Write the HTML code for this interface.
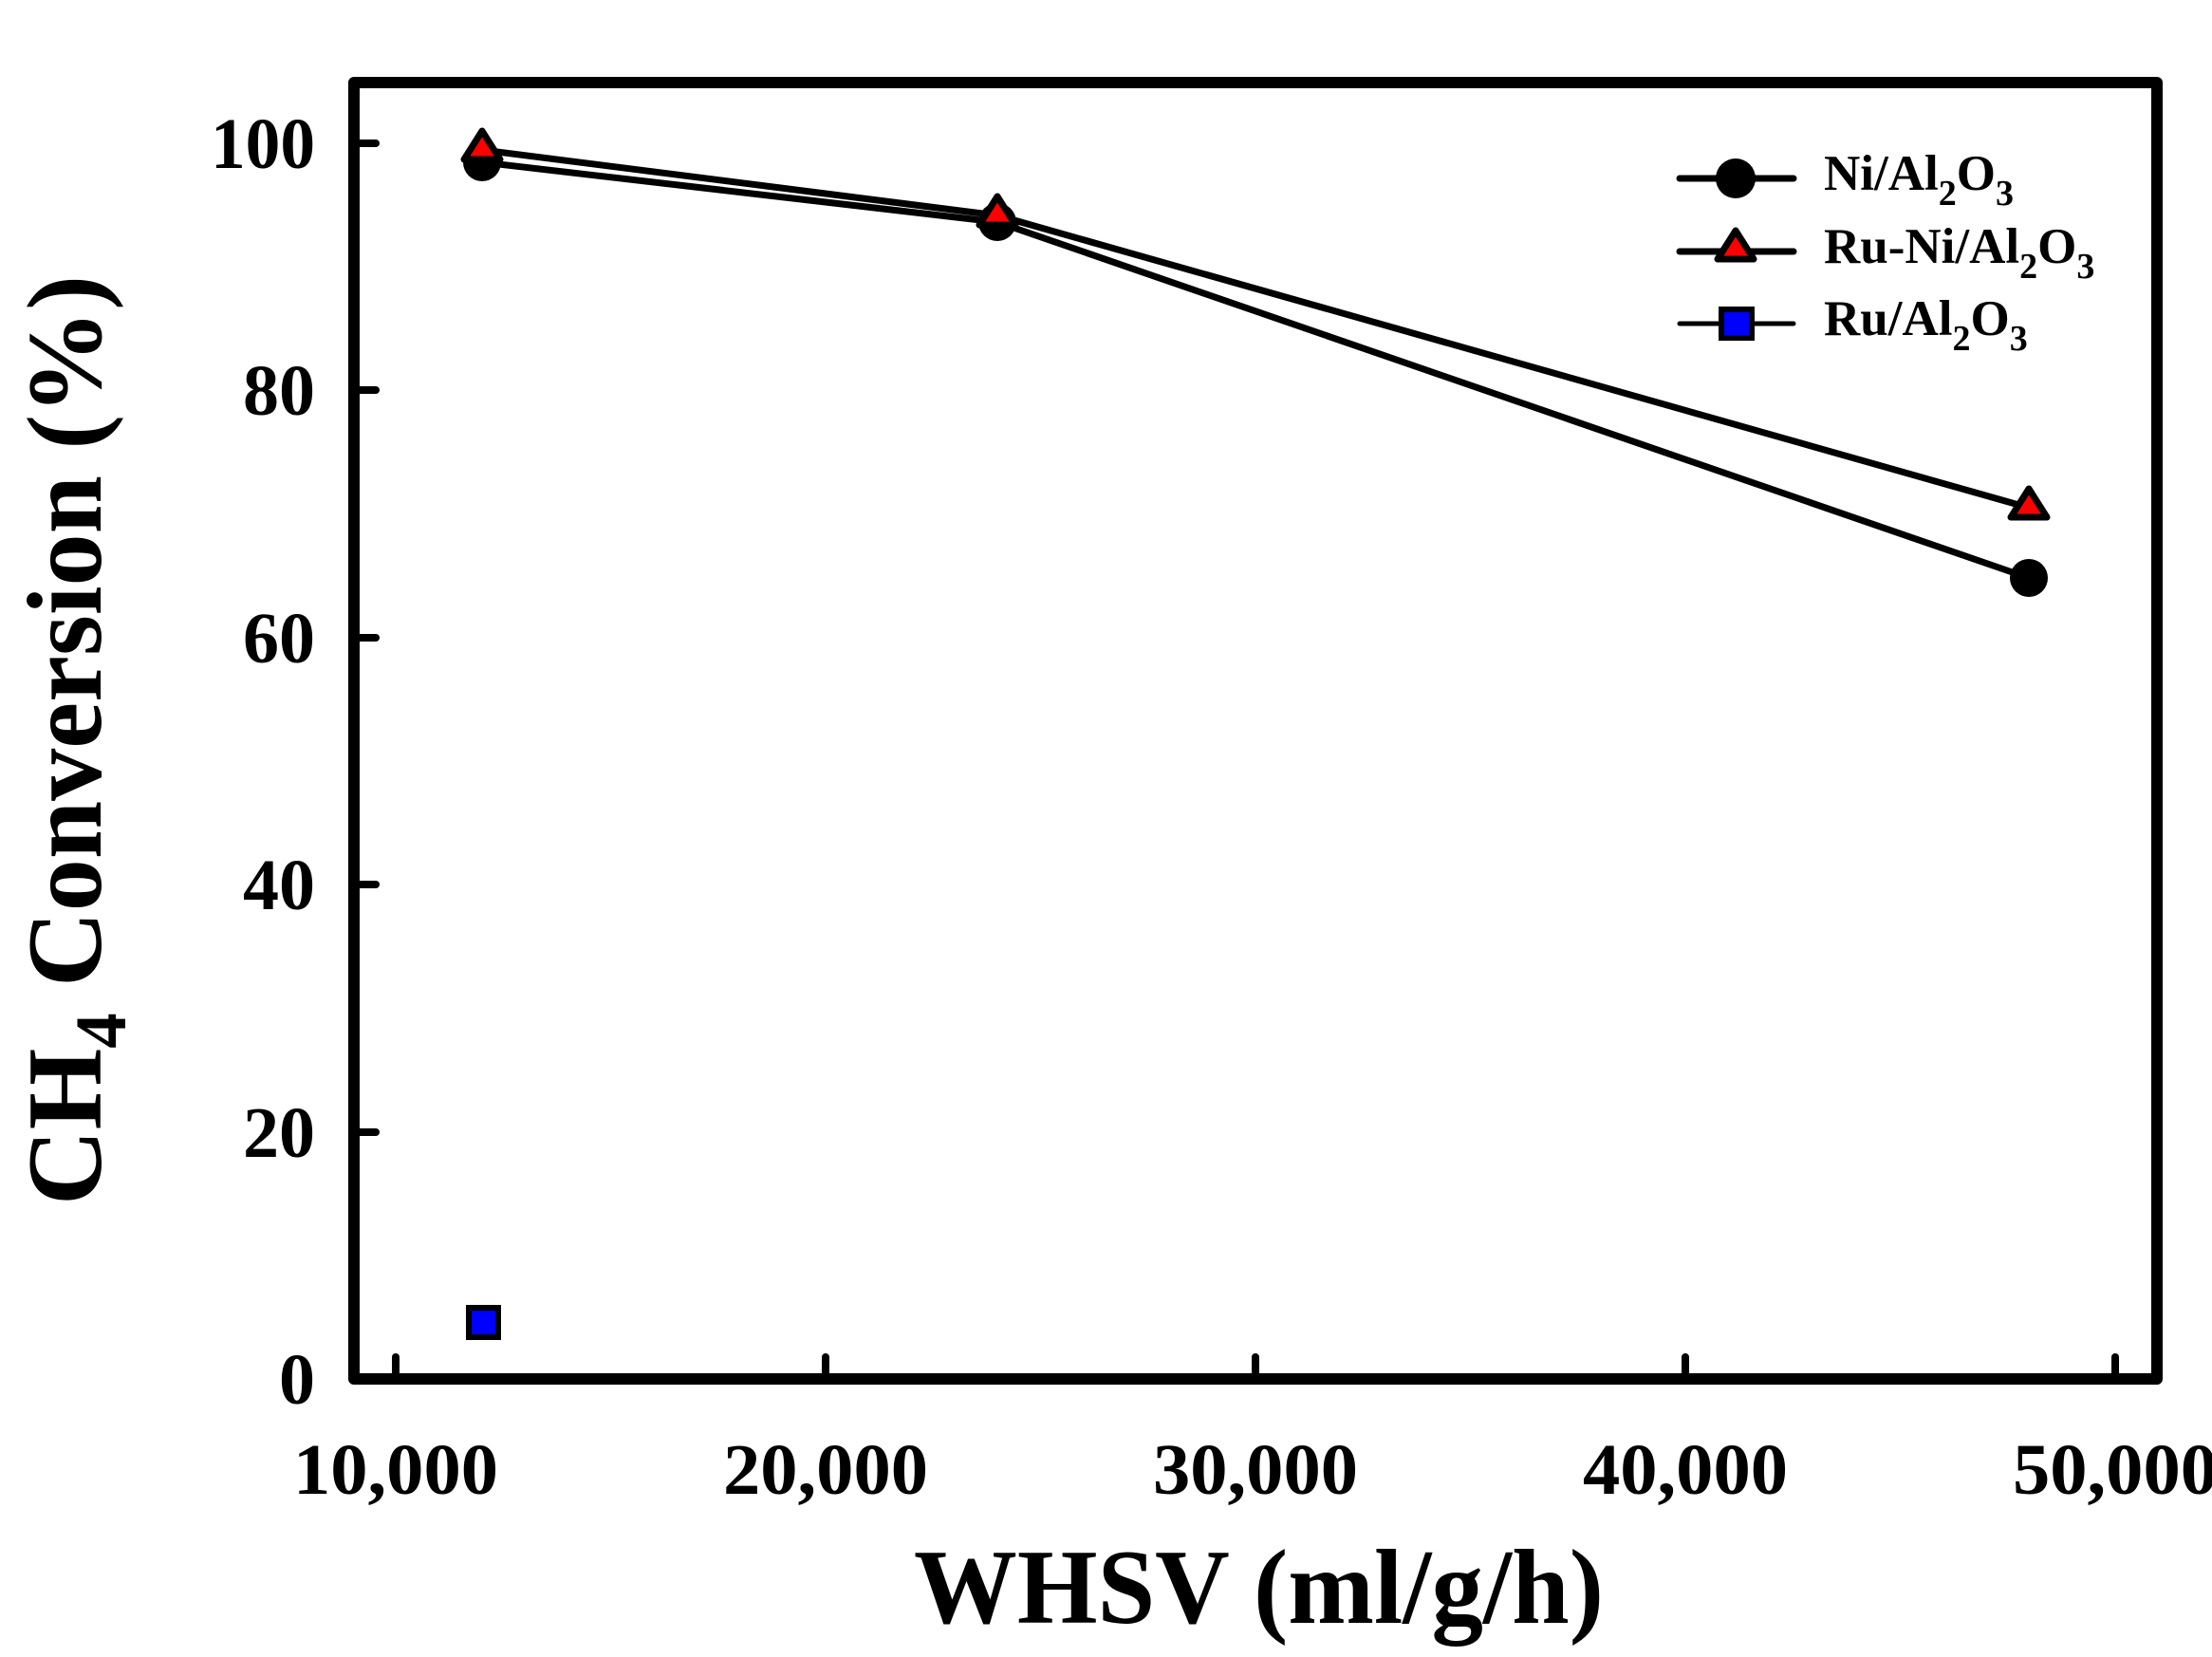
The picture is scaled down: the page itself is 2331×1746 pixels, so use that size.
<!DOCTYPE html>
<html><head><meta charset="utf-8"><style>html,body{margin:0;padding:0;background:#fff}svg{display:block}</style></head>
<body>
<svg width="2331" height="1746" viewBox="0 0 2331 1746" xmlns="http://www.w3.org/2000/svg" font-family="Liberation Serif, serif" font-weight="bold">
<rect width="2331" height="1746" fill="#fff"/>
<g stroke="#000" stroke-width="8" stroke-linecap="round">
<line x1="379" y1="151" x2="396" y2="151"/>
<line x1="379" y1="411" x2="396" y2="411"/>
<line x1="379" y1="672" x2="396" y2="672"/>
<line x1="379" y1="932" x2="396" y2="932"/>
<line x1="379" y1="1193" x2="396" y2="1193"/>
<line x1="417" y1="1447" x2="417" y2="1430"/>
<line x1="870" y1="1447" x2="870" y2="1430"/>
<line x1="1323" y1="1447" x2="1323" y2="1430"/>
<line x1="1776" y1="1447" x2="1776" y2="1430"/>
<line x1="2229" y1="1447" x2="2229" y2="1430"/>
</g>
<rect x="373" y="87" width="1900" height="1366" fill="none" stroke="#000" stroke-width="12" stroke-linejoin="round"/>
<g font-size="76" text-anchor="end">
<text x="332" y="177" textLength="110" lengthAdjust="spacingAndGlyphs">100</text>
<text x="332" y="437">80</text>
<text x="332" y="698">60</text>
<text x="332" y="958">40</text>
<text x="332" y="1219">20</text>
<text x="332" y="1479">0</text>
</g>
<g font-size="76">
<text x="309" y="1574" textLength="216" lengthAdjust="spacingAndGlyphs">10,000</text>
<text x="762" y="1574" textLength="216" lengthAdjust="spacingAndGlyphs">20,000</text>
<text x="1215" y="1574" textLength="216" lengthAdjust="spacingAndGlyphs">30,000</text>
<text x="1668" y="1574" textLength="216" lengthAdjust="spacingAndGlyphs">40,000</text>
<text x="2121" y="1574" textLength="216" lengthAdjust="spacingAndGlyphs">50,000</text>
</g>
<text x="963" y="1710" font-size="112" textLength="727" lengthAdjust="spacingAndGlyphs">WHSV (ml/g/h)</text>
<text transform="translate(106,1270) rotate(-90)" font-size="112" textLength="980" lengthAdjust="spacingAndGlyphs">CH<tspan font-size="76" dy="26">4</tspan><tspan dy="-26"> Conversion (%)</tspan></text>
<g stroke="#000" stroke-width="7" fill="none">
<polyline points="508,171 1051,234 2138,609"/>
<polyline points="508,158 1051,227 2138,535"/>
</g>
<g fill="#000">
<circle cx="508" cy="171" r="20"/>
<circle cx="1051" cy="234" r="20"/>
<circle cx="2138" cy="609" r="20"/>
</g>
<g fill="#f00" stroke="#000" stroke-width="7" stroke-linejoin="round">
<polygon points="508,138 527,168 489,168"/>
<polygon points="1051,207 1070,237 1032,237"/>
<polygon points="2138,515 2157,545 2119,545"/>
</g>
<rect x="494" y="1378" width="31" height="31" fill="#00f" stroke="#000" stroke-width="6"/>
<g stroke="#000">
<line x1="1770" y1="188" x2="1890" y2="188" stroke-width="7" stroke-linecap="round"/>
<line x1="1770" y1="265" x2="1890" y2="265" stroke-width="7" stroke-linecap="round"/>
<line x1="1770" y1="341" x2="1890" y2="341" stroke-width="5" stroke-linecap="round"/>
</g>
<circle cx="1829" cy="188" r="21" fill="#000"/>
<polygon points="1829,243 1848,273 1810,273" fill="#f00" stroke="#000" stroke-width="7" stroke-linejoin="round"/>
<rect x="1814" y="326" width="32" height="30" fill="#00f" stroke="#000" stroke-width="6"/>
<g font-size="53">
<text x="1922" y="200">Ni/Al<tspan font-size="38" dy="16">2</tspan><tspan dy="-16">O</tspan><tspan font-size="38" dy="16">3</tspan></text>
<text x="1922" y="277">Ru-Ni/Al<tspan font-size="38" dy="16">2</tspan><tspan dy="-16">O</tspan><tspan font-size="38" dy="16">3</tspan></text>
<text x="1922" y="353">Ru/Al<tspan font-size="38" dy="16">2</tspan><tspan dy="-16">O</tspan><tspan font-size="38" dy="16">3</tspan></text>
</g>
</svg>
</body></html>
